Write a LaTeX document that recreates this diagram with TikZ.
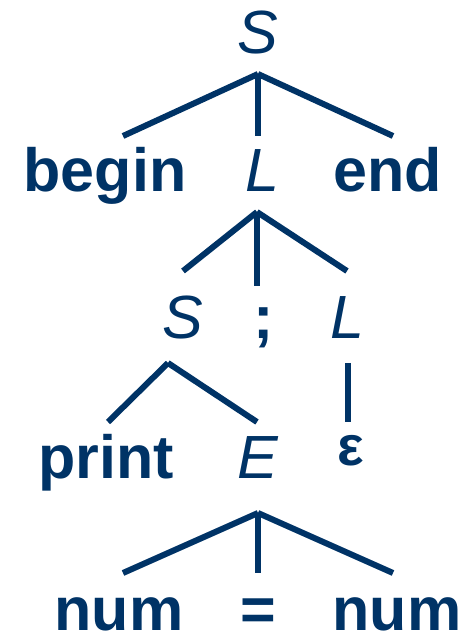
\documentclass[tikz,border=0pt]{standalone}
\usepackage{fontspec}
\setmainfont{Liberation Sans}
\definecolor{cnavy}{HTML}{003366}
\tikzset{
  every picture/.style={line width=6pt, x=1pt, y=1pt},
  sym/.style={inner sep=0pt, anchor=base, text=cnavy, font=\fontsize{61}{61}\selectfont},
  nt/.style={sym, font=\fontsize{61}{61}\selectfont\itshape},
  tm/.style={sym, font=\fontsize{61}{61}\selectfont\bfseries},
  branch/.style={draw=cnavy, line cap=butt},
}

\begin{document}
\begin{tikzpicture}
  \useasboundingbox (0,0) rectangle (468,635);
  % symbols of the parse tree, row by row
  \node[nt] (S0) at (258,581) {S};
  \node[tm] (begin) at (105,443) {begin};
  \node[nt] (L1) at (262,443) {L};
  \node[tm] (end) at (388,443) {end};
  \node[nt] (S2) at (183,296) {S};
  \node[tm] (semi) at (264,296) {;};
  \node[nt] (L2) at (347,296) {L};
  \node[tm] (print) at (106,156) {print};
  \node[nt] (E) at (258,156) {E};
  \node[tm, font=\fontsize{56}{56}\selectfont\bfseries] (eps) at (351,169) {ε};
  \node[tm] (num1) at (119,5) {num};
  \node[tm] (eq) at (258,5) {=};
  \node[tm] (num2) at (397,5) {num};
  % where the branches leave each parent
  \coordinate (S0j) at ([yshift=-20]S0.base);
  \coordinate (L1j) at ([shift={(-5,-20)}]L1.base);
  \coordinate (S2j) at ([shift={(-15,-24)}]S2.base);
  \coordinate (L2j) at ([shift={(1,-24)}]L2.base);
  \coordinate (Ej) at ([yshift=-34]E.base);
  % branches
  \draw[branch] (S0j) -- ([shift={(18,56)}]begin.base);
  \draw[branch] (S0j) -- ([shift={(-4,56)}]L1.base);
  \draw[branch] (S0j) -- ([shift={(5,56)}]end.base);
  \draw[branch] (L1j) -- ([shift={(0,68)}]S2.base);
  \draw[branch] (L1j) -- ([shift={(-7,53)}]semi.base);
  \draw[branch] (L1j) -- ([shift={(0,68)}]L2.base);
  \draw[branch] (S2j) -- ([shift={(2,57)}]print.base);
  \draw[branch] (S2j) -- ([shift={(-1,57)}]E.base);
  \draw[branch] (L2j) -- ([shift={(-3,44)}]eps.base);
  \draw[branch] (Ej) -- ([shift={(4,57)}]num1.base);
  \draw[branch] (Ej) -- ([shift={(0,57)}]eq.base);
  \draw[branch] (Ej) -- ([shift={(-4,57)}]num2.base);
\end{tikzpicture}
\end{document}
